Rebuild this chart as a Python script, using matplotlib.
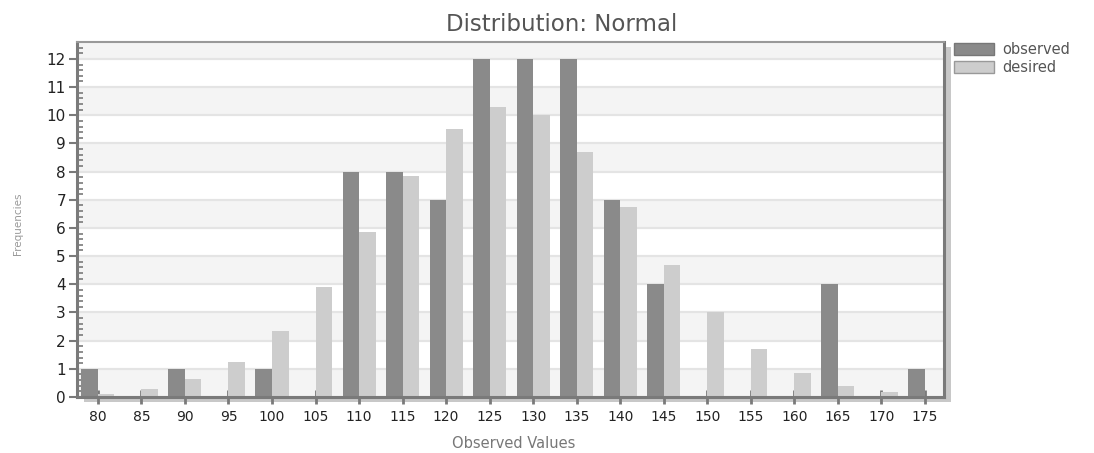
import matplotlib
matplotlib.use("Agg")
import matplotlib.pyplot as plt
from matplotlib.patches import Rectangle, Patch
from matplotlib.ticker import MultipleLocator

plt.rcParams["font.family"] = ["DejaVu Sans"]

# Histogram bins (bin centers) and counts
bins = [80, 85, 90, 95, 100, 105, 110, 115, 120, 125,
        130, 135, 140, 145, 150, 155, 160, 165, 170, 175]
observed = [1, 0, 1, 0, 1, 0, 8, 8, 7, 12,
            12, 12, 7, 4, 0, 0, 0, 4, 0, 1]
desired = [0.1, 0.3, 0.65, 1.25, 2.35, 3.9, 5.85, 7.85, 9.5, 10.3,
           10.0, 8.7, 6.75, 4.7, 3.0, 1.7, 0.85, 0.4, 0.17, 0.05]
y_ticks = list(range(0, 13))

OBS_COLOR = "#8a8a8a"
DES_COLOR = "#cdcdcd"
AXIS_COLOR = "#7a7a7a"

fig = plt.figure(figsize=(10.94, 4.53), dpi=100)
ax_rect = [0.0704, 0.1236, 0.7925, 0.7837]

# Drop shadow behind the plot frame
shadow = Rectangle((ax_rect[0] + 0.006, ax_rect[1] - 0.012),
                   ax_rect[2], ax_rect[3],
                   transform=fig.transFigure, facecolor="#c8c8c8",
                   edgecolor="none", zorder=-5)
fig.add_artist(shadow)

ax = fig.add_axes(ax_rect, zorder=1)
ax.set_facecolor("white")
ax.set_xlim(77.6, 177.2)
ax.set_ylim(0, 12.6)

# Alternating horizontal bands and grid lines
for lo in range(0, 12, 2):
    ax.axhspan(lo, lo + 1, color="#f4f4f4", zorder=0, lw=0)
ax.axhspan(12, 12.6, color="#f4f4f4", zorder=0, lw=0)
for y in y_ticks:
    ax.axhline(y, color="#e4e4e4", lw=1.6, zorder=0.5)

w = 1.9
ax.bar([b - w / 2 for b in bins], observed, width=w, color=OBS_COLOR,
       zorder=2, label="observed")
ax.bar([b + w / 2 for b in bins], desired, width=w, color=DES_COLOR,
       zorder=2, label="desired")

for side in ["left", "bottom", "right", "top"]:
    ax.spines[side].set_color(AXIS_COLOR)
    ax.spines[side].set_linewidth(2.2)
ax.spines["top"].set_linewidth(1.5)
ax.spines["top"].set_color("#999999")

ax.set_xticks(bins)
ax.set_xticklabels([str(b) for b in bins])
ax.set_yticks(y_ticks)
ax.yaxis.set_minor_locator(MultipleLocator(0.2))
ax.tick_params(axis="x", direction="inout", length=10, width=2,
               color=AXIS_COLOR, labelsize=10, labelcolor="#222222", pad=4)
ax.tick_params(axis="y", which="major", direction="out", length=6, width=1.5,
               color=AXIS_COLOR, labelsize=11, labelcolor="#222222", pad=2)
ax.tick_params(axis="y", which="minor", direction="in", length=4, width=1.2,
               color=AXIS_COLOR)

fig.text(0.513, 0.945, "Distribution: Normal", fontsize=16.5,
         color="#555555", ha="center", va="center")
fig.text(0.4695, 0.02, "Observed Values", fontsize=10.5, color="#777777",
         ha="center", va="center")
fig.text(0.0165, 0.505, "Frequencies", rotation=90, fontsize=7.5,
         color="#999999", ha="center", va="center")

handles = [Patch(facecolor=OBS_COLOR, edgecolor="#777777", label="observed"),
           Patch(facecolor=DES_COLOR, edgecolor="#999999", label="desired")]
fig.legend(handles=handles, loc="upper left", bbox_to_anchor=(0.872, 0.908),
           frameon=False, fontsize=10.5, labelcolor="#555555",
           handlelength=2.75, handleheight=0.9, handletextpad=0.55,
           labelspacing=0.25, borderaxespad=0, borderpad=0)

fig.savefig("out.png", dpi=100)
